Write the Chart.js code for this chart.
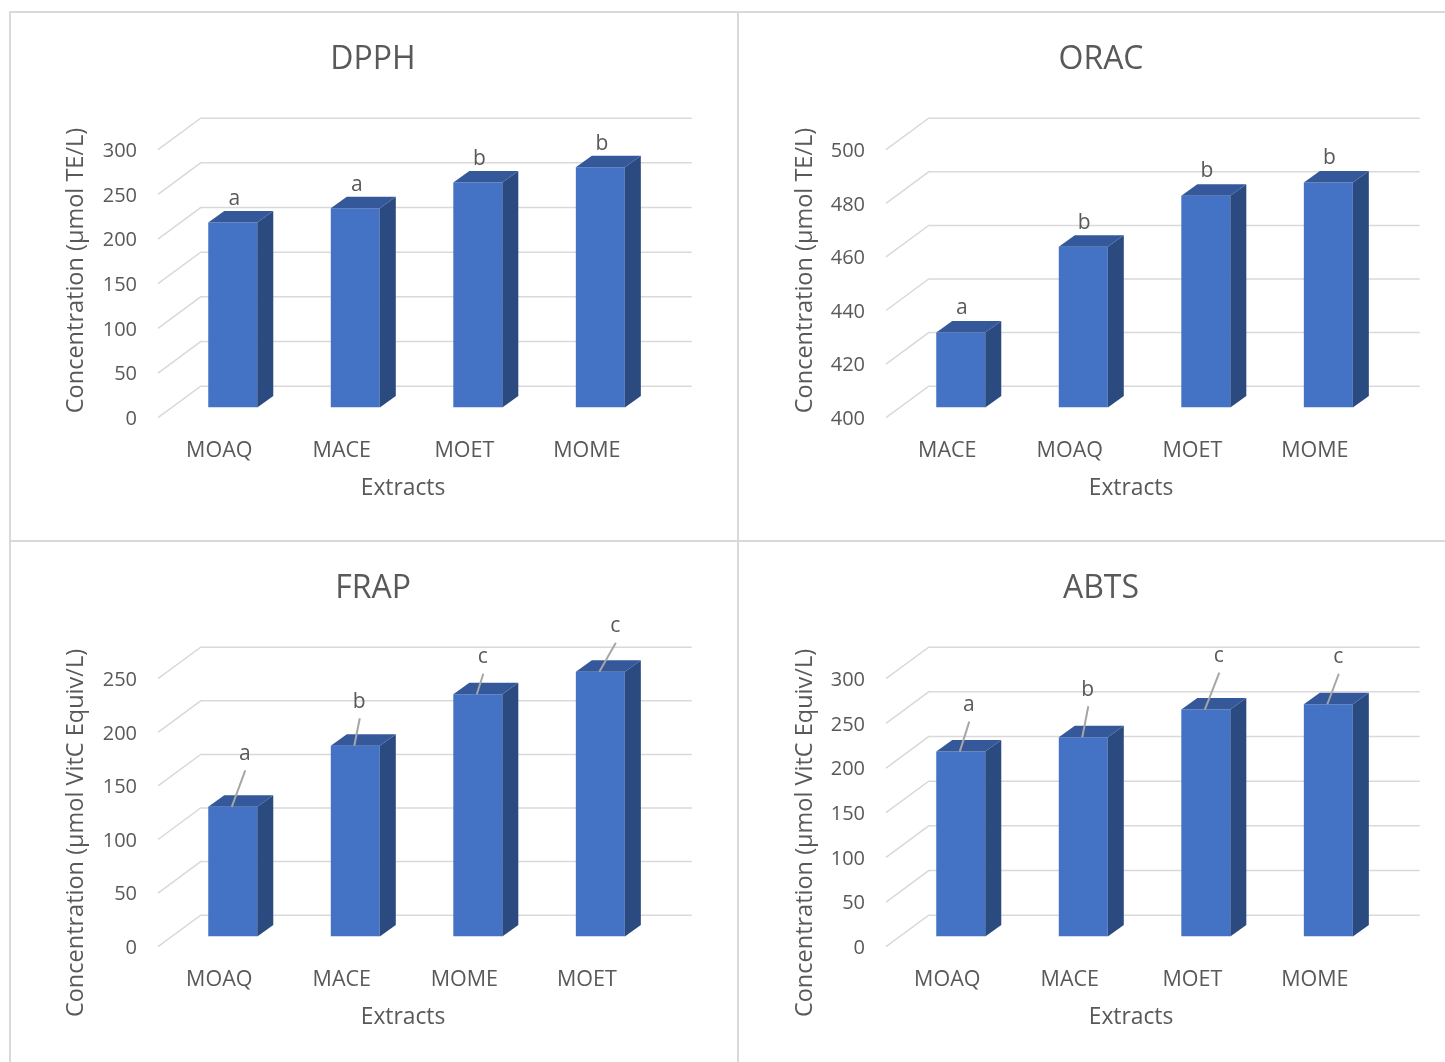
<!DOCTYPE html>
<html>
<head>
<meta charset="utf-8">
<script src="https://cdn.jsdelivr.net/npm/chart.js@4.4.1/dist/chart.umd.min.js"></script>
<style>
  html, body { margin: 0; padding: 0; background: #ffffff; width: 1445px; height: 1062px; overflow: hidden; }
  .panel { position: absolute; width: 730px; height: 531px; box-sizing: border-box; border: 2px solid #d9d9d9; }
  canvas.chart { position: absolute; }
</style>
</head>
<body>
<div class="panel" style="left:9px;top:11px"></div>
<div class="panel" style="left:737px;top:11px"></div>
<div class="panel" style="left:9px;top:540px"></div>
<div class="panel" style="left:737px;top:540px"></div>
<canvas class="chart" id="cDPPH" width="728" height="529" style="left:9px;top:11px"></canvas>
<canvas class="chart" id="cORAC" width="728" height="529" style="left:737px;top:11px"></canvas>
<canvas class="chart" id="cFRAP" width="728" height="529" style="left:9px;top:540px"></canvas>
<canvas class="chart" id="cABTS" width="728" height="529" style="left:737px;top:540px"></canvas>
<script>
// ---------------- DATA ----------------
const dpphCategories = ['MOAQ', 'MACE', 'MOET', 'MOME'];
const dpphValues     = [207, 223, 252, 269];
const dpphLetters    = ['a', 'a', 'b', 'b'];
const dpphTicks      = [0, 50, 100, 150, 200, 250, 300];

const oracCategories = ['MACE', 'MOAQ', 'MOET', 'MOME'];
const oracValues     = [428, 460, 479, 484];
const oracLetters    = ['a', 'b', 'b', 'b'];
const oracTicks      = [400, 420, 440, 460, 480, 500];

const frapCategories = ['MOAQ', 'MACE', 'MOME', 'MOET'];
const frapValues     = [121, 178, 226, 247];
const frapLetters    = ['a', 'b', 'c', 'c'];
const frapTicks      = [0, 50, 100, 150, 200, 250];

const abtsCategories = ['MOAQ', 'MACE', 'MOET', 'MOME'];
const abtsValues     = [207, 223, 254, 260];
const abtsLetters    = ['a', 'b', 'c', 'c'];
const abtsTicks      = [0, 50, 100, 150, 200, 250, 300];

// ---------------- STYLE ----------------
const FONT = '"Open Sans", "Segoe UI", sans-serif';
const TEXT = '#595959';
const GRID = '#d9d9d9';
const FRONT = '#4472C4', TOP = '#34589A', SIDE = '#2B4A80';
const GEO = { bar: [13.5, -10.2], back: [42.7, -31.5], rightExtra: 43.6, depth: [16, -11.5] };

Chart.defaults.font.family = FONT;
Chart.defaults.color = TEXT;

const plainOffsets = [[1.5, -17.5], [1.5, -17.5], [1.5, -17.5], [1.5, -17.5]];
const oracOffsets  = [[1, -18.5], [1, -18], [1, -18.5], [1, -18.5]];
const frapOffsets  = [[12, -47], [4, -38], [5, -31], [15, -39.5]];
const abtsOffsets  = [[8, -40.5], [4.5, -41.5], [13, -47.5], [10, -41]];

function excel3d(cfg) {
  return {
    id: 'excel3d',
    beforeDatasetsDraw(chart) {
      const { ctx, chartArea: a, scales: { y } } = chart;
      ctx.save();
      ctx.strokeStyle = GRID;
      ctx.lineWidth = 1.5;
      y.ticks.forEach(t => {
        const py = y.getPixelForValue(t.value);
        ctx.beginPath();
        ctx.moveTo(a.left, py);
        ctx.lineTo(a.left + GEO.back[0], py + GEO.back[1]);
        ctx.lineTo(a.right + GEO.rightExtra, py + GEO.back[1]);
        ctx.stroke();
      });
      ctx.restore();
      ctx.save();
      ctx.translate(GEO.bar[0], GEO.bar[1]);
    },
    afterDatasetsDraw(chart) {
      const { ctx } = chart;
      const meta = chart.getDatasetMeta(0);
      const [dx, dy] = GEO.depth;
      meta.data.forEach((bar, i) => {
        const { x, y, base, width } = bar.getProps(['x', 'y', 'base', 'width'], true);
        const l = x - width / 2, r = x + width / 2;
        ctx.fillStyle = SIDE;
        ctx.beginPath();
        ctx.moveTo(r, y); ctx.lineTo(r + dx, y + dy); ctx.lineTo(r + dx, base + dy); ctx.lineTo(r, base);
        ctx.closePath(); ctx.fill();
        ctx.fillStyle = TOP;
        ctx.beginPath();
        ctx.moveTo(l, y); ctx.lineTo(l + dx, y + dy); ctx.lineTo(r + dx, y + dy); ctx.lineTo(r, y);
        ctx.closePath(); ctx.fill();
        const [ox, oy] = cfg.offsets[i];
        const lx = x + ox, ly = y + oy;
        if (cfg.leaders) {
          ctx.strokeStyle = '#a6a6a6';
          ctx.lineWidth = 2;
          ctx.beginPath();
          ctx.moveTo(x - 1, y);
          ctx.lineTo(lx + 0.5, ly + 10.5);
          ctx.stroke();
        }
        ctx.fillStyle = TEXT;
        ctx.font = '21px ' + FONT;
        ctx.textAlign = 'center';
        ctx.textBaseline = 'alphabetic';
        ctx.fillText(cfg.letters[i], lx, ly);
      });
      ctx.restore();
    },
    afterDraw(chart) {
      const { ctx } = chart;
      ctx.save();
      ctx.translate(cfg.yTitlePos[0], cfg.yTitlePos[1]);
      ctx.rotate(-Math.PI / 2);
      ctx.fillStyle = TEXT;
      ctx.font = '23.5px ' + FONT;
      ctx.textAlign = 'center';
      ctx.textBaseline = 'middle';
      ctx.fillText(cfg.yTitle, 0, 0);
      ctx.restore();
    }
  };
}

function makeChart(id, title, categories, values, letters, ticks, yTitle, offsets, leaders, yTitlePos) {
  return new Chart(document.getElementById(id), {
    type: 'bar',
    data: {
      labels: categories,
      datasets: [{
        data: values,
        base: ticks[0],
        backgroundColor: FRONT,
        borderWidth: 0,
        barPercentage: 0.4,
        categoryPercentage: 1.0
      }]
    },
    options: {
      responsive: false,
      animation: false,
      events: [],
      layout: { padding: { left: 88.9, right: 88.9, top: 0, bottom: 32.3 } },
      plugins: {
        legend: { display: false },
        tooltip: { enabled: false },
        title: {
          display: true, text: title, color: TEXT,
          font: { family: FONT, size: 32, weight: 'normal' },
          padding: { top: 29.5, bottom: 70.8 }
        }
      },
      scales: {
        x: {
          grid: { display: false, drawTicks: false },
          border: { display: false },
          ticks: { color: TEXT, font: { size: 21.5 }, padding: 20, maxRotation: 0, autoSkip: false },
          title: { display: true, text: 'Extracts', color: TEXT, font: { size: 22.8 }, padding: { top: 0, bottom: 5.5 } },
          afterFit(s) { s.height = 90; }
        },
        y: {
          min: ticks[0], max: ticks[ticks.length - 1],
          grid: { display: false, drawTicks: false },
          border: { display: false },
          ticks: { color: TEXT, font: { size: 20 }, padding: 21, labelOffset: 1.5 },
          afterBuildTicks(s) { s.ticks = ticks.map(v => ({ value: v })); },
          afterFit(s) { s.width = 60.1; }
        }
      }
    },
    plugins: [excel3d({ letters, offsets, leaders, yTitle, yTitlePos })]
  });
}

makeChart('cDPPH', 'DPPH', dpphCategories, dpphValues, dpphLetters, dpphTicks,
  'Concentration (µmol TE/L)', plainOffsets, false, [67, 259.5]);
makeChart('cORAC', 'ORAC', oracCategories, oracValues, oracLetters, oracTicks,
  'Concentration (µmol TE/L)', oracOffsets, false, [68, 259.5]);
makeChart('cFRAP', 'FRAP', frapCategories, frapValues, frapLetters, frapTicks,
  'Concentration (µmol VitC Equiv/L)', frapOffsets, true, [67, 293]);
makeChart('cABTS', 'ABTS', abtsCategories, abtsValues, abtsLetters, abtsTicks,
  'Concentration (µmol VitC Equiv/L)', abtsOffsets, true, [68, 293]);
</script>
</body>
</html>
